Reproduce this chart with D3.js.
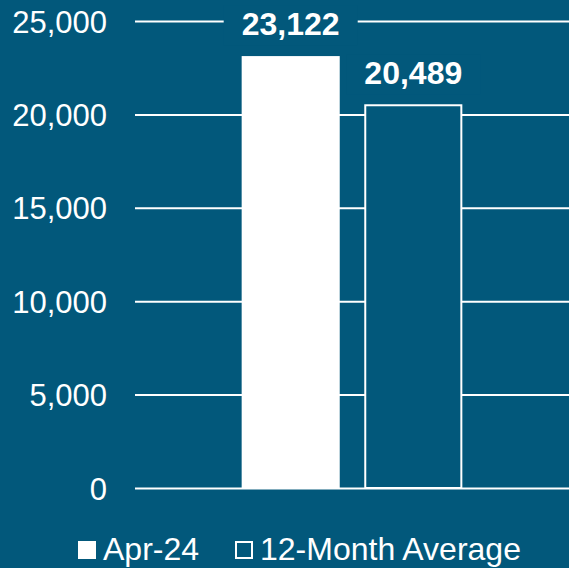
<!DOCTYPE html>
<html>
<head>
<meta charset="utf-8">
<script src="https://cdn.jsdelivr.net/npm/d3@7"></script>
<style>
  html, body { margin: 0; padding: 0; background: #02587b; }
  svg { display: block; font-family: "Liberation Sans", Arial, sans-serif; }
</style>
</head>
<body>
<script>
const width = 569, height = 568;
const bg = "#02587b";

const categories = ["Apr-24", "12-Month Average"];
const values = [23122, 20489];
const tickValues = [0, 5000, 10000, 15000, 20000, 25000];

const svg = d3.select("body").append("svg")
    .attr("width", width)
    .attr("height", height);

svg.append("rect").attr("width", width).attr("height", height).attr("fill", bg);

const x = d3.scaleBand()
    .domain(categories)
    .range([135, 569])
    .paddingInner(0.2)
    .paddingOuter(0.87);

const y = d3.scaleLinear()
    .domain([0, 25000])
    .range([488, 21]);

const fmt = d3.format(",");

// gridlines + tick labels
const yAxis = d3.axisLeft(y)
    .tickValues(tickValues)
    .tickFormat(fmt)
    .tickSize(-(width - 135))
    .tickPadding(28);

const gy = svg.append("g")
    .attr("transform", "translate(135,0)")
    .call(yAxis);
gy.select(".domain").remove();
gy.selectAll(".tick line").attr("stroke", "#fff").attr("stroke-width", 2);
gy.selectAll(".tick text")
    .attr("fill", "#fff")
    .attr("font-size", 31)
    .attr("dy", "0.36em");

// bars
svg.selectAll("rect.bar")
    .data(categories)
    .join("rect")
    .attr("class", "bar")
    .attr("x", (d, i) => i === 0 ? x(d) : x(d) + 1)
    .attr("y", (d, i) => y(values[i]))
    .attr("width", (d, i) => i === 0 ? x.bandwidth() : x.bandwidth() - 2)
    .attr("height", (d, i) => y(0) - y(values[i]))
    .attr("fill", (d, i) => i === 0 ? "#fff" : bg)
    .attr("stroke", (d, i) => i === 0 ? "none" : "#fff")
    .attr("stroke-width", 2);

// value labels with background boxes
const labels = svg.selectAll("g.vlabel")
    .data(categories)
    .join("g")
    .attr("class", "vlabel")
    .attr("transform", (d, i) => `translate(${x(d) + x.bandwidth() / 2},${y(values[i]) - 21})`);

labels.append("rect")
    .attr("x", -67)
    .attr("y", -30)
    .attr("width", 134)
    .attr("height", 40)
    .attr("fill", bg);

labels.append("text")
    .attr("text-anchor", "middle")
    .attr("fill", "#fff")
    .attr("font-size", 32)
    .attr("font-weight", "bold")
    .text((d, i) => fmt(values[i]));

// legend
const legendX = [78, 235];
const legend = svg.selectAll("g.legend")
    .data(categories)
    .join("g")
    .attr("class", "legend")
    .attr("transform", (d, i) => `translate(${legendX[i]},541)`);

legend.append("rect")
    .attr("x", (d, i) => i === 0 ? 0 : 1)
    .attr("y", (d, i) => i === 0 ? 0 : 1)
    .attr("width", (d, i) => i === 0 ? 18 : 16)
    .attr("height", (d, i) => i === 0 ? 18 : 16)
    .attr("fill", (d, i) => i === 0 ? "#fff" : "none")
    .attr("stroke", (d, i) => i === 0 ? "none" : "#fff")
    .attr("stroke-width", 2);

legend.append("text")
    .attr("x", 25)
    .attr("y", 19)
    .attr("fill", "#fff")
    .attr("font-size", 32)
    .text(d => d);
</script>
</body>
</html>
